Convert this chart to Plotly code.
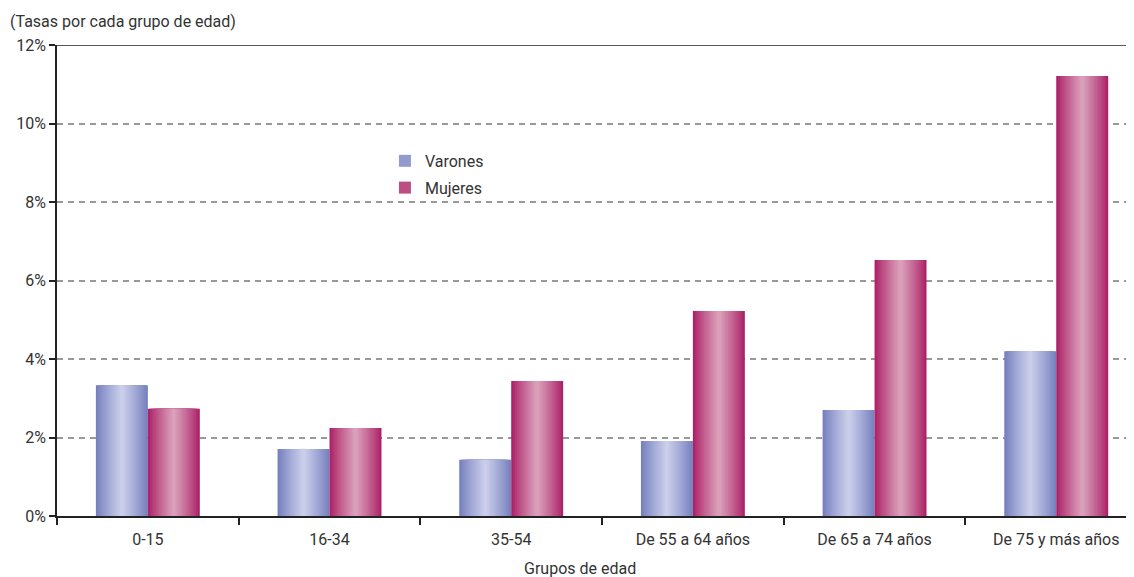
import plotly.graph_objects as go

categories = ["0-15", "16-34", "35-54", "De 55 a 64 años", "De 65 a 74 años", "De 75 y más años"]
varones = [3.33, 1.71, 1.43, 1.91, 2.70, 4.20]
mujeres = [2.73, 2.24, 3.44, 5.22, 6.52, 11.21]
y_ticks = [0, 2, 4, 6, 8, 10, 12]
y_labels = ["0%", "2%", "4%", "6%", "8%", "10%", "12%"]

series = [
    ("Varones", varones, (118, 128, 191), (202, 206, 234), -0.286),
    ("Mujeres", mujeres, (172, 34, 104), (218, 160, 186), 0.0),
]

BAR_W = 0.286
LEVELS = 14
FONT = "Roboto, 'Open Sans', sans-serif"


def mix(c1, c2, t):
    return "rgb(%d,%d,%d)" % tuple(round(a + (b - a) * t) for a, b in zip(c1, c2))


fig = go.Figure()
for name, vals, dark, light, off in series:
    for k in range(LEVELS):
        frac = 1 - k / LEVELS
        w = BAR_W * frac
        t = (k / (LEVELS - 1)) ** 0.9
        fig.add_trace(go.Bar(
            x=categories, y=vals, width=w, offset=off + (BAR_W - w) / 2,
            marker=dict(color=mix(dark, light, t), line=dict(width=0)),
            name=name, legendgroup=name, showlegend=(k == 4),
            hoverinfo="skip" if k else None,
        ))

# page has an 8px body margin: the figure is sized/offset to compensate
fig.update_layout(
    width=1126, height=569,
    margin=dict(l=49, r=0, t=37, b=61),
    paper_bgcolor="white", plot_bgcolor="white",
    barmode="overlay",
    font=dict(family=FONT, size=16, color="#333333"),
    showlegend=True,
    legend=dict(x=0.3045, y=0.79, xanchor="left", yanchor="top",
                bgcolor="rgba(0,0,0,0)", font=dict(size=16, color="#333333"),
                tracegroupgap=3, traceorder="grouped", itemwidth=30),
    xaxis=dict(
        type="category", range=[-0.5, 5.428], automargin=False,
        showline=True, linecolor="#222222", linewidth=1.5,
        ticks="outside", tickson="boundaries", ticklen=7, tickcolor="#222222", tickwidth=1.5,
        ticklabelstandoff=8,
        showgrid=False, tickfont=dict(size=16, color="#333333"),
    ),
    yaxis=dict(
        range=[0, 12], tickvals=y_ticks, ticktext=y_labels, automargin=False,
        showline=True, linecolor="#222222", linewidth=1.5,
        ticks="outside", ticklen=6, tickcolor="#222222", tickwidth=1.5,
        showgrid=True, gridcolor="#999999", gridwidth=1.5, griddash="6px,5px",
        zeroline=False, tickfont=dict(size=16, color="#333333"),
    ),
    shapes=[dict(type="line", xref="paper", yref="y", x0=0, x1=1, y0=12, y1=12,
                 line=dict(color="#222222", width=1.5))],
    annotations=[
        dict(text="(Tasas por cada grupo de edad)", xref="paper", yref="paper",
             x=-0.0455, y=1.049, xanchor="left", yanchor="middle", showarrow=False,
             font=dict(size=16, color="#333333")),
        dict(text="Grupos de edad", xref="paper", yref="paper",
             x=0.4856, y=-0.111, xanchor="center", yanchor="middle", showarrow=False,
             font=dict(size=16, color="#333333")),
    ],
)

fig.write_html("out.html")
